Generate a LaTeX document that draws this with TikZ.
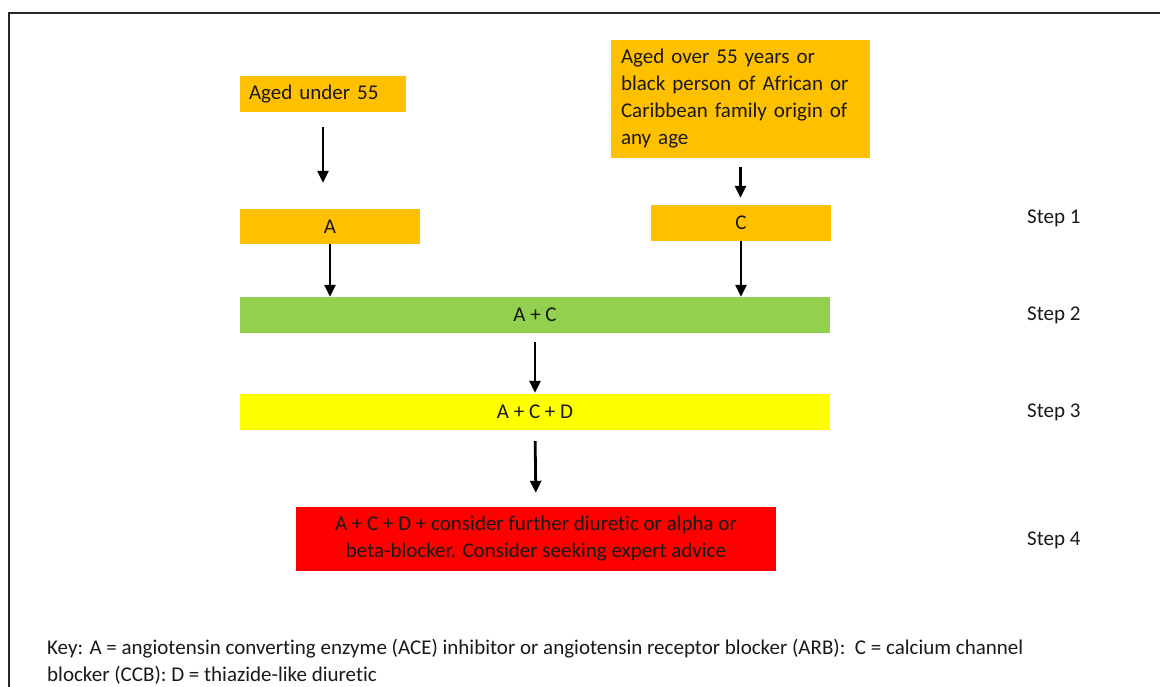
\documentclass[tikz,border=0pt]{standalone}
\usepackage{fontspec}
\setmainfont[Ligatures=NoCommon]{Carlito}
\usetikzlibrary{arrows.meta}

\definecolor{amber}{HTML}{FFC000}
\definecolor{leaf}{HTML}{92D050}
\definecolor{lemon}{HTML}{FFFF00}
\definecolor{alarm}{HTML}{FF0000}

\begin{document}
\begin{tikzpicture}[x=1pt,y=-1pt,
			every node/.style={inner sep=0pt,font=\fontsize{21}{27}\selectfont,text=black!90},
			drugbox/.style={minimum height=36pt},
			flow/.style={-{Triangle[width=11pt,length=12pt]},line width=2.8pt},
			steplbl/.style={anchor=west}]
			
			% Page and outer frame (cut at right and bottom)
			\clip (0,0) rectangle (1160,686);
			\draw[line width=1.6pt,black!85] (9,13) rectangle (1200,720);
			
			% Patient groups
			\node[drugbox,fill=amber,inner xsep=9pt,text width=148pt,align=left] (under55) at (323,94) {Aged under 55};
			\node[fill=amber,inner xsep=10pt,text width=239pt,minimum height=118pt,align=left] (over55) at (740.5,99)
				{Aged over 55 years or\\black person of African or\\Caribbean family origin of\\any age};
			
			% Step 1 drugs
			\node[drugbox,fill=amber,minimum width=180pt,minimum height=35pt] (drugA) at (330,226.5) {A};
			\node[drugbox,fill=amber,minimum width=180pt] (drugC) at (741,223) {C};
			
			% Steps 2 to 4
			\node[drugbox,fill=leaf,minimum width=590pt] (stepAC) at (535,315) {A + C};
			\node[drugbox,fill=lemon,minimum width=590pt] (stepACD) at (535,412) {A + C + D};
			\node[fill=alarm,minimum width=480pt,minimum height=64pt,align=center] (stepFour) at (536,539)
				{A + C + D + consider further diuretic or alpha or\\beta-blocker. Consider seeking expert advice};
			
			% Step labels on the right
			\foreach \k/\yy in {1/218,2/315,3/412,4/540}{
				\node[steplbl] (lbl\k) at (1027,\yy) {Step \k};
			}
			
			% Arrows between the boxes
			\draw[flow,shorten <=15pt,shorten >=26pt] (under55.south) -- (under55.south |- drugA.north);
			\draw[flow,shorten <=9pt,shorten >=7pt] (over55.south) -- (over55.south |- drugC.north);
			\draw[flow] (drugA.south) -- (drugA.south |- stepAC.north);
			\draw[flow] (drugC.south) -- (drugC.south |- stepAC.north);
			\draw[flow,shorten <=9pt,shorten >=1pt] (stepAC.south) -- (stepACD.north);
			\draw[flow,shorten <=11pt,shorten >=14pt] (stepACD.south) -- (stepFour.north);
			
			% Key below the chart
			\node[anchor=west,align=left] (key) at (47,662)
				{Key: A = angiotensin converting enzyme (ACE) inhibitor or angiotensin receptor blocker (ARB):\ \ C = calcium channel\\blocker (CCB): D = thiazide-like diuretic};
			
		\end{tikzpicture}
\end{document}
